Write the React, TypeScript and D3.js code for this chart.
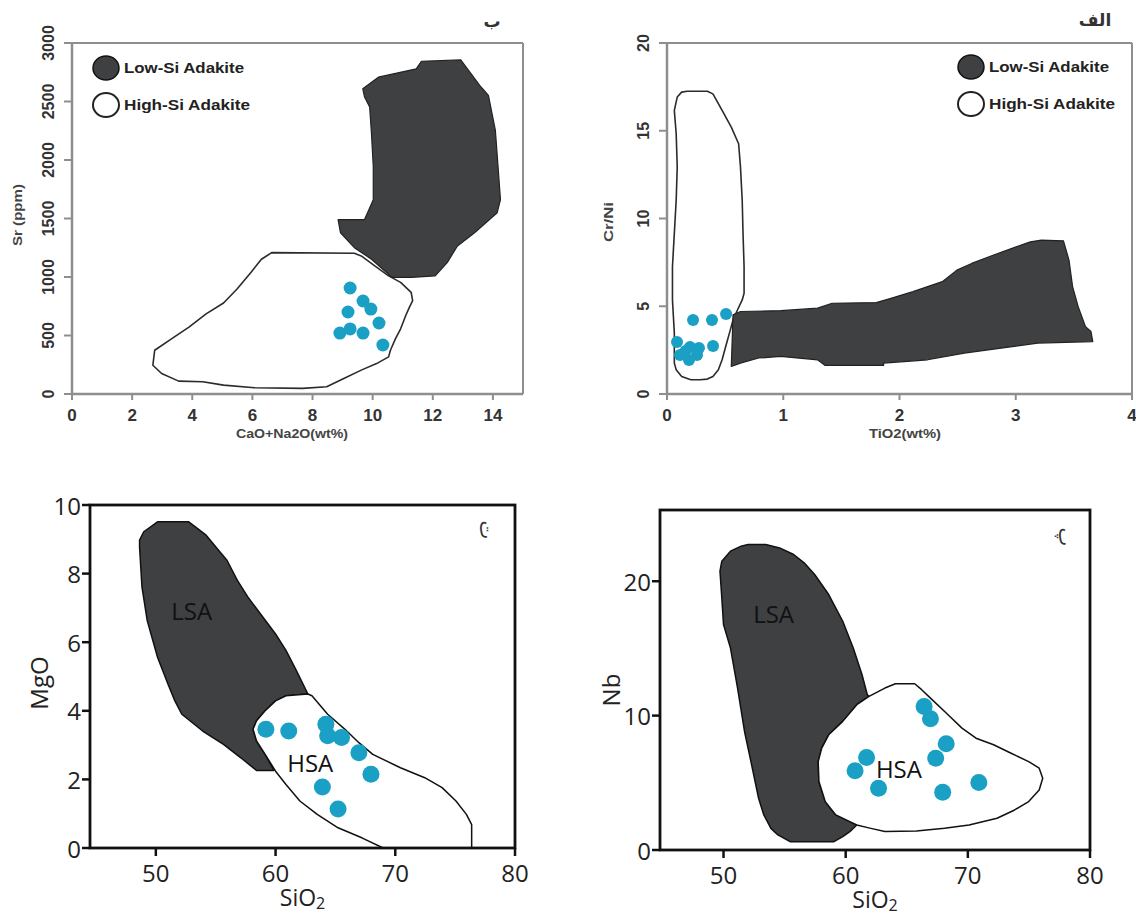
import React from "react";
import * as d3 from "d3";

type P = [number, number];

// ---------- Panel "ب" : Sr (ppm) vs CaO+Na2O ----------
const srXTicks = [0, 2, 4, 6, 8, 10, 12, 14];
const srYTicks = [0, 500, 1000, 1500, 2000, 2500, 3000];
const srLowSi: P[] = [
  [9.67, 2609], [10.19, 2708], [11.45, 2779], [11.62, 2844], [12.93, 2855], [13.56, 2637],
  [13.85, 2553], [14.08, 2255], [14.17, 1944], [14.25, 1661], [14.14, 1548], [13.39, 1378],
  [12.82, 1265], [12.48, 1123], [12.08, 1010], [11.28, 996], [10.65, 996], [9.96, 1152],
  [9.39, 1251], [8.93, 1378], [8.85, 1491], [9.73, 1491], [10.02, 1661], [10.02, 1944],
  [9.96, 2227], [9.9, 2454], [9.73, 2538],
];
const srHighSi: P[] = [
  [6.64, 1208], [9.39, 1203], [9.62, 1180], [10.07, 1095], [10.53, 1010], [10.93, 954],
  [11.28, 869], [11.33, 798], [11.22, 741], [11.1, 671], [10.93, 557], [10.76, 473],
  [10.59, 374], [10.53, 317], [10.13, 260], [9.62, 204], [9.04, 133], [8.47, 62],
  [7.67, 48], [6.07, 54], [5.04, 76], [4.35, 105], [3.55, 110], [2.98, 175], [2.69, 246],
  [2.75, 374], [3.32, 473], [3.89, 572], [4.46, 685], [5.04, 778], [5.49, 897],
  [5.95, 1039], [6.3, 1152],
];
const srSamples: P[] = [
  [9.25, 906], [9.68, 795], [9.94, 726], [9.18, 701], [10.21, 607], [8.91, 521],
  [9.25, 556], [9.68, 521], [10.34, 419],
];

// ---------- Panel "الف" : Cr/Ni vs TiO2 ----------
const crXTicks = [0, 1, 2, 3, 4];
const crYTicks = [0, 5, 10, 15, 20];
const crLowSi: P[] = [
  [0.568, 4.51], [0.632, 4.7], [0.979, 4.75], [1.295, 4.89], [1.421, 5.17], [1.8, 5.21],
  [1.926, 5.45], [2.116, 5.83], [2.242, 6.12], [2.368, 6.4], [2.494, 7.06], [2.621, 7.44],
  [2.81, 7.92], [2.968, 8.3], [3.126, 8.67], [3.221, 8.77], [3.41, 8.73], [3.458, 7.63],
  [3.489, 6.12], [3.537, 4.98], [3.6, 3.84], [3.647, 3.56], [3.663, 2.99], [3.189, 2.9],
  [2.873, 2.61], [2.558, 2.33], [2.242, 1.95], [1.863, 1.76], [1.863, 1.63], [1.358, 1.63],
  [1.295, 1.95], [0.979, 2.14], [0.789, 2.05], [0.632, 1.76], [0.553, 1.57],
];
const crHighSi: P[] = [
  [0.126, 17.2], [0.174, 17.25], [0.347, 17.25], [0.395, 17.1], [0.474, 16.16], [0.553, 15.21],
  [0.616, 14.26], [0.632, 12.94], [0.647, 11.04], [0.654, 9.15], [0.663, 7.26], [0.663, 5.74],
  [0.647, 5.36], [0.6, 4.7], [0.568, 4.22], [0.537, 3.47], [0.505, 2.71], [0.474, 1.95],
  [0.442, 1.38], [0.395, 1.0], [0.347, 0.85], [0.284, 0.81], [0.205, 0.81], [0.126, 1.0],
  [0.079, 1.38], [0.063, 1.76], [0.063, 3.47], [0.047, 5.36], [0.047, 7.26], [0.063, 9.15],
  [0.079, 11.04], [0.088, 12.94], [0.079, 14.83], [0.063, 16.16], [0.088, 16.92],
];
const crSamples: P[] = [
  [0.224, 4.22], [0.387, 4.22], [0.508, 4.56], [0.086, 2.96], [0.198, 2.68], [0.275, 2.62],
  [0.396, 2.74], [0.112, 2.22], [0.189, 1.94], [0.258, 2.22], [0.16, 2.45],
];

// ---------- Panel "ت" : MgO vs SiO2 ----------
const mgXTicks = [50, 60, 70, 80];
const mgYTicks = [0, 2, 4, 6, 8, 10];
const mgLSA: P[] = [
  [50.14, 9.51], [52.75, 9.51], [54.2, 9.12], [55.36, 8.63], [55.94, 8.39], [56.81, 7.8],
  [57.68, 7.32], [58.84, 6.78], [60.0, 6.24], [60.87, 5.76], [61.74, 5.17], [62.7, 4.49],
  [60.87, 4.44], [60.0, 4.29], [59.13, 4.0], [58.41, 3.71], [58.12, 3.46], [58.41, 3.12],
  [59.13, 2.73], [59.86, 2.26], [58.41, 2.26], [57.1, 2.63], [55.65, 3.02], [53.91, 3.41],
  [52.17, 3.9], [51.59, 4.29], [51.01, 4.78], [50.14, 5.56], [49.28, 6.63], [48.84, 7.61],
  [48.64, 8.78], [48.64, 8.98], [48.99, 9.22],
];
const mgHSA: P[] = [
  [62.7, 4.49], [63.04, 4.44], [64.35, 3.9], [65.8, 3.46], [66.96, 3.07], [68.12, 2.73],
  [70.43, 2.34], [72.46, 2.05], [73.91, 1.76], [75.07, 1.37], [75.94, 0.98], [76.38, 0.68],
  [76.38, 0], [68.99, 0], [67.25, 0.29], [65.22, 0.59], [63.48, 0.98], [62.03, 1.37],
  [60.87, 1.85], [60.0, 2.24], [59.13, 2.73], [58.41, 3.12], [58.12, 3.46], [58.41, 3.71],
  [59.13, 4.0], [60.0, 4.29], [60.87, 4.44],
];
const mgSamples: P[] = [
  [59.19, 3.46], [61.1, 3.41], [64.2, 3.61], [64.35, 3.27], [65.51, 3.22], [66.96, 2.78],
  [67.97, 2.15], [63.91, 1.78], [65.22, 1.14],
];

// ---------- Panel "پ" : Nb vs SiO2 ----------
const nbXTicks = [50, 60, 70, 80];
const nbYTicks = [0, 10, 20];
const nbLSA: P[] = [
  [49.86, 21.49], [50.57, 22.24], [51.44, 22.61], [52.01, 22.73], [53.45, 22.73], [54.59, 22.48],
  [55.74, 21.99], [56.6, 21.37], [57.46, 20.5], [58.61, 19.01], [59.76, 17.02], [60.62, 15.03],
  [61.34, 13.04], [61.77, 11.55], [61.91, 11.43], [60.91, 10.81], [59.76, 9.57], [58.61, 8.57],
  [58.04, 7.58], [57.75, 6.58], [57.81, 5.09], [58.33, 3.6], [59.19, 2.61], [60.34, 2.11],
  [60.91, 1.86], [60.34, 1.37], [59.76, 0.99], [59.04, 0.62], [55.45, 0.62], [54.45, 1.12],
  [53.88, 1.61], [53.3, 2.61], [52.87, 3.85], [52.3, 6.34], [51.72, 8.82], [51.15, 12.05],
  [50.57, 15.03], [50.0, 16.77], [49.86, 18.76], [49.71, 20.75],
];
const nbHSA: P[] = [
  [61.91, 11.43], [63.21, 12.05], [64.07, 12.37], [65.65, 12.37], [66.22, 11.93], [66.94, 11.3],
  [68.38, 10.06], [69.52, 9.07], [70.67, 8.32], [72.11, 7.83], [73.54, 7.2], [74.98, 6.58],
  [75.84, 6.09], [76.13, 5.34], [75.84, 4.47], [74.98, 3.6], [73.83, 2.98], [72.39, 2.36],
  [70.1, 1.86], [68.09, 1.61], [65.79, 1.42], [63.21, 1.37], [62.06, 1.61], [60.91, 1.86],
  [60.34, 2.11], [59.19, 2.61], [58.33, 3.6], [57.81, 5.09], [57.75, 6.58], [58.04, 7.58],
  [58.61, 8.57], [59.76, 9.57], [60.91, 10.81],
];
const nbSamples: P[] = [
  [60.77, 5.89], [61.71, 6.88], [62.69, 4.6], [66.42, 10.68], [66.94, 9.76], [68.23, 7.9],
  [67.37, 6.83], [67.94, 4.3], [70.9, 5.02],
];

const legendLabels = ["Low-Si Adakite", "High-Si Adakite"];

const DARK = "#3e4042";
const CYAN = "#1aa0c4";
const SANS = "'Liberation Sans', Arial, sans-serif";
const HUMAN = "'Open Sans', 'Noto Sans', sans-serif";
const ARABIC = "'DejaVu Sans', sans-serif";

interface Box { l: number; r: number; t: number; b: number }

function TopPanel(props: {
  box: Box; xDomain: P; yDomain: P; xTicks: number[]; yTicks: number[];
  lowSi: P[]; highSi: P[]; samples: P[]; r: number;
  xLabel: string; xLabelX: number; xLabelLen: number;
  yLabel: string; yLabelX: number; yLabelY: number; yLabelLen: number;
  letter: string; letterX: number; letterY: number;
  legendX: number; legendY: number;
}) {
  const { box } = props;
  const x = d3.scaleLinear().domain(props.xDomain).range([box.l, box.r]);
  const y = d3.scaleLinear().domain(props.yDomain).range([box.b, box.t]);
  const line = d3.line<P>().x((d) => x(d[0])).y((d) => y(d[1])).curve(d3.curveLinearClosed);
  const ax = "#8e8e8e";
  return (
    <g>
      <path d={line(props.highSi) || ""} fill="#fff" stroke="#2b2b2b" strokeWidth={1.6} strokeLinejoin="round" />
      <path d={line(props.lowSi) || ""} fill={DARK} stroke="#222" strokeWidth={1.2} strokeLinejoin="round" />
      {props.samples.map((d, i) => (
        <circle key={i} cx={x(d[0])} cy={y(d[1])} r={props.r} fill={CYAN} />
      ))}
      {/* frame */}
      <line x1={box.l} x2={box.r} y1={box.t} y2={box.t} stroke={ax} strokeWidth={2} />
      <line x1={box.r} x2={box.r} y1={box.t} y2={box.b} stroke={ax} strokeWidth={2} />
      <line x1={box.l} x2={box.r} y1={box.b} y2={box.b} stroke={ax} strokeWidth={2.5} />
      <line x1={box.l} x2={box.l} y1={box.t} y2={box.b} stroke={ax} strokeWidth={2.5} />
      {props.xTicks.map((t) => (
        <g key={"x" + t}>
          <line x1={x(t)} x2={x(t)} y1={box.b} y2={box.b + 6} stroke={ax} strokeWidth={2} />
          <text x={x(t)} y={box.b + 27} textAnchor="middle" fontFamily={SANS} fontWeight="bold" fontSize={17} fill="#333">{t}</text>
        </g>
      ))}
      {props.yTicks.map((t) => (
        <g key={"y" + t}>
          <line x1={box.l - 8} x2={box.l} y1={y(t)} y2={y(t)} stroke={ax} strokeWidth={2} />
          <text transform={`translate(${box.l - 24},${y(t)}) rotate(-90)`} textAnchor="middle" dominantBaseline="central"
            fontFamily={SANS} fontWeight="bold" fontSize={16} fill="#333">{t}</text>
        </g>
      ))}
      <text x={props.xLabelX} y={box.b + 44} textAnchor="middle" fontFamily={SANS} fontWeight="bold" fontSize={13}
        fill="#444" textLength={props.xLabelLen} lengthAdjust="spacingAndGlyphs">{props.xLabel}</text>
      <text transform={`translate(${props.yLabelX},${props.yLabelY}) rotate(-90)`} textAnchor="middle" dominantBaseline="central"
        fontFamily={SANS} fontWeight="bold" fontSize={12} fill="#444" textLength={props.yLabelLen} lengthAdjust="spacingAndGlyphs">{props.yLabel}</text>
      <text x={props.letterX} y={props.letterY} textAnchor="middle" fontFamily={ARABIC} fontWeight="bold" fontSize={17} fill="#333">{props.letter}</text>
      {/* legend */}
      <ellipse cx={props.legendX} cy={props.legendY} rx={13} ry={12} fill={DARK} stroke="#111" strokeWidth={1.5} />
      <ellipse cx={props.legendX} cy={props.legendY + 37} rx={13} ry={12} fill="#fff" stroke="#222" strokeWidth={2} />
      {legendLabels.map((lab, i) => (
        <text key={lab} x={props.legendX + 18} y={props.legendY + i * 37 + 5} fontFamily={SANS} fontWeight="bold" fontSize={14}
          fill="#222" textLength={i === 0 ? 120 : 126} lengthAdjust="spacingAndGlyphs">{lab}</text>
      ))}
    </g>
  );
}

function BottomPanel(props: {
  box: Box; xDomain: P; yDomain: P; xTicks: number[]; yTicks: number[];
  lsa: P[]; hsa: P[]; samples: P[]; r: number; lsaAt: P; hsaAt: P;
  xLabelY: number; yLabel: string; yLabelX: number; yLabelY: number;
  letter: string; letterX: number; letterY: number;
}) {
  const { box } = props;
  const x = d3.scaleLinear().domain(props.xDomain).range([box.l, box.r]);
  const y = d3.scaleLinear().domain(props.yDomain).range([box.b, box.t]);
  const line = d3.line<P>().x((d) => x(d[0])).y((d) => y(d[1])).curve(d3.curveLinearClosed);
  return (
    <g>
      <path d={line(props.lsa) || ""} fill={DARK} stroke="#111" strokeWidth={1.5} strokeLinejoin="round" />
      <path d={line(props.hsa) || ""} fill="#fff" stroke="#111" strokeWidth={1.5} strokeLinejoin="round" />
      <text x={x(props.lsaAt[0])} y={y(props.lsaAt[1])} textAnchor="middle" dominantBaseline="central" fontFamily={HUMAN} fontSize={24} fill="#111">LSA</text>
      <text x={x(props.hsaAt[0])} y={y(props.hsaAt[1])} textAnchor="middle" dominantBaseline="central" fontFamily={HUMAN} fontSize={24} fill="#111">HSA</text>
      {props.samples.map((d, i) => (
        <circle key={i} cx={x(d[0])} cy={y(d[1])} r={props.r} fill={CYAN} />
      ))}
      <rect x={box.l} y={box.t} width={box.r - box.l} height={box.b - box.t} fill="none" stroke="#111" strokeWidth={2.8} />
      {props.xTicks.map((t) => (
        <g key={"x" + t}>
          <line x1={x(t)} x2={x(t)} y1={box.b} y2={box.b + 8} stroke="#111" strokeWidth={2.5} />
          <text x={x(t)} y={box.b + 34} textAnchor="middle" fontFamily={HUMAN} fontSize={24} fill="#222">{t}</text>
        </g>
      ))}
      {props.yTicks.map((t) => (
        <g key={"y" + t}>
          <line x1={box.l - 8} x2={box.l} y1={y(t)} y2={y(t)} stroke="#111" strokeWidth={2.5} />
          <text x={box.l - 9} y={y(t)} textAnchor="end" dominantBaseline="central" fontFamily={HUMAN} fontSize={24} fill="#222">{t}</text>
        </g>
      ))}
      <text x={(box.l + box.r) / 2} y={props.xLabelY} textAnchor="middle" fontFamily={HUMAN} fontSize={23} fill="#222">
        SiO<tspan fontSize={16} dy={3}>2</tspan>
      </text>
      <text transform={`translate(${props.yLabelX},${props.yLabelY}) rotate(-90)`} textAnchor="middle" dominantBaseline="central"
        fontFamily={HUMAN} fontSize={24} fill="#222">{props.yLabel}</text>
      <text transform={`translate(${props.letterX},${props.letterY}) rotate(90)`} textAnchor="middle" dominantBaseline="central"
        fontFamily={ARABIC} fontSize={20} fill="#333">{props.letter}</text>
    </g>
  );
}

export default function App() {
  return (
    <svg width={1136} height={921} viewBox="0 0 1136 921" style={{ position: "absolute", left: 0, top: 0, background: "#fff" }}>
      <rect width={1136} height={921} fill="#fff" />
      <TopPanel
        box={{ l: 72, r: 523, t: 43, b: 394 }} xDomain={[0, 15]} yDomain={[0, 3000]}
        xTicks={srXTicks} yTicks={srYTicks} lowSi={srLowSi} highSi={srHighSi} samples={srSamples} r={6.5}
        xLabel="CaO+Na2O(wt%)" xLabelX={292} xLabelLen={112}
        yLabel="Sr (ppm)" yLabelX={18} yLabelY={215} yLabelLen={62}
        letter="ب" letterX={492} letterY={27} legendX={106} legendY={68}
      />
      <TopPanel
        box={{ l: 667, r: 1132, t: 43, b: 394 }} xDomain={[0, 4]} yDomain={[0, 20]}
        xTicks={crXTicks} yTicks={crYTicks} lowSi={crLowSi} highSi={crHighSi} samples={crSamples} r={6}
        xLabel="TiO2(wt%)" xLabelX={905} xLabelLen={72}
        yLabel="Cr/Ni" yLabelX={609} yLabelY={222} yLabelLen={40}
        letter="الف" letterX={1095} letterY={26} legendX={971} legendY={67}
      />
      <BottomPanel
        box={{ l: 90, r: 515, t: 505, b: 848 }} xDomain={[44.5, 80]} yDomain={[0, 10]}
        xTicks={mgXTicks} yTicks={mgYTicks} lsa={mgLSA} hsa={mgHSA} samples={mgSamples} r={8.5}
        lsaAt={[52.99, 6.93]} hsaAt={[62.9, 2.49]}
        xLabelY={906} yLabel="MgO" yLabelX={38} yLabelY={683}
        letter="ت" letterX={487} letterY={530}
      />
      <BottomPanel
        box={{ l: 660, r: 1090, t: 510, b: 850 }} xDomain={[44.8, 80]} yDomain={[0, 25.3]}
        xTicks={nbXTicks} yTicks={nbYTicks} lsa={nbLSA} hsa={nbHSA} samples={nbSamples} r={8.5}
        lsaAt={[54.1, 17.6]} hsaAt={[64.36, 6.09]}
        xLabelY={908} yLabel="Nb" yLabelX={610} yLabelY={690}
        letter="پ" letterX={1066} letterY={537}
      />
    </svg>
  );
}
